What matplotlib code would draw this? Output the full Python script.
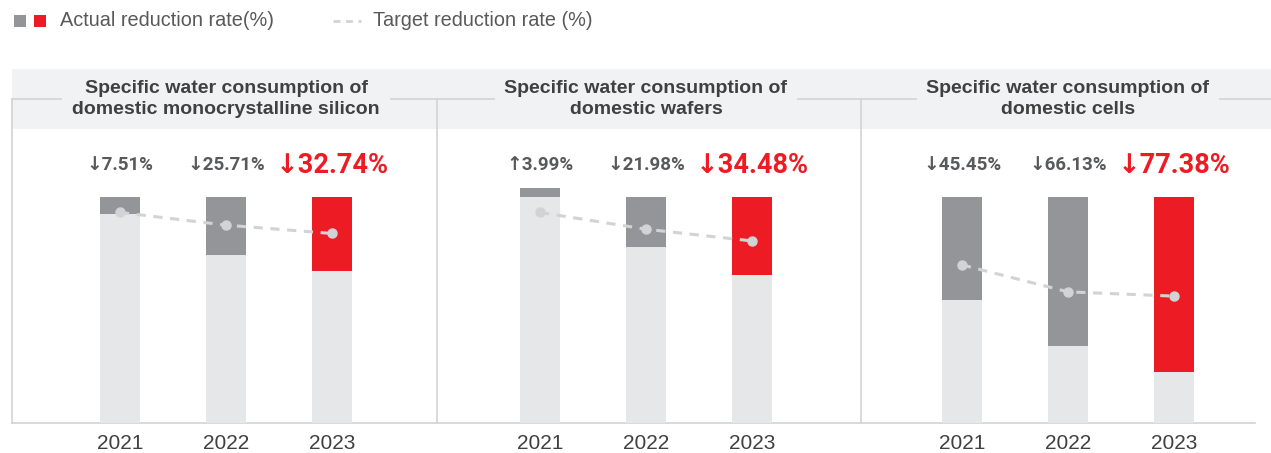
import matplotlib
matplotlib.use("Agg")
import matplotlib.pyplot as plt
from matplotlib.patches import Rectangle
from matplotlib.lines import Line2D

plt.rcParams['font.family'] = ['Liberation Sans', 'DejaVu Sans']

# --- data ---
years = ["2021", "2022", "2023"]
titles = [
    "Specific water consumption of\ndomestic monocrystalline silicon",
    "Specific water consumption of\ndomestic wafers",
    "Specific water consumption of\ndomestic cells",
]
# signed change vs. baseline (negative = reduction)
silicon_actual = [-7.51, -25.71, -32.74]
wafer_actual = [3.99, -21.98, -34.48]
cell_actual = [-45.45, -66.13, -77.38]
# target reduction rates
silicon_target = [6.9, 12.5, 16.2]
wafer_target = [6.9, 14.3, 19.5]
cell_target = [30.1, 42.0, 43.9]

actuals = [silicon_actual, wafer_actual, cell_actual]
targets = [silicon_target, wafer_target, cell_target]

LIGHT = '#e6e7e8'
DARK = '#939598'
RED = '#ed1c24'
HEADER = '#f1f2f4'
RULE = '#d1d3d4'
TEXT = '#404040'
LABEL = '#58595b'
NARROW = ['Roboto', 'DejaVu Sans']

W, H = 1271, 453
fig = plt.figure(figsize=(W / 100, H / 100), dpi=100)


def fx(x):
    return x / W


def fy(y):
    return 1 - y / H


# header band + rules
fig.add_artist(Rectangle((fx(12), fy(129)), fx(1271) - fx(12), 60 / H,
                         transform=fig.transFigure, fc=HEADER, ec='none', zorder=-3))
rules = [((12, 1271), (99, 99)), ((12, 12), (99, 423)), ((437, 437), (99, 423)),
         ((861, 861), (99, 423)), ((12, 1255), (423, 423))]
for xs, ys in rules:
    fig.add_artist(Line2D([fx(v) for v in xs], [fy(v) for v in ys],
                          transform=fig.transFigure, color=RULE, lw=1.2, zorder=-2))

# legend
fig.add_artist(Rectangle((fx(14), fy(27)), 12 / W, 12 / H, transform=fig.transFigure,
                         fc=DARK, ec='none'))
fig.add_artist(Rectangle((fx(34), fy(27)), 12 / W, 12 / H, transform=fig.transFigure,
                         fc=RED, ec='none'))
fig.text(fx(60), fy(21), "Actual reduction rate(%)", ha='left', va='center',
         fontsize=14.3, color='#595959')
fig.add_artist(Line2D([fx(333), fx(361)], [fy(21), fy(21)], transform=fig.transFigure,
                      color=RULE, lw=2, ls=(0, (2.5, 2))))
fig.text(fx(373), fy(21), "Target reduction rate (%)", ha='left', va='center',
         fontsize=14.3, color='#595959')

# (panel left px, panel width px, first bar offset px)
panels = [(12, 425, 108), (437, 424, 103), (861, 394, 101)]
unit = 106
x = [0, 1, 2]

for i, (x0, w, start) in enumerate(panels):
    ax = fig.add_axes([fx(x0), fy(423), w / W, (423 - 129) / H])
    ax.set_xlim(-start / unit, (w - start) / unit)
    ax.set_ylim(0, 130)
    ax.patch.set_alpha(0)
    for s in ax.spines.values():
        s.set_visible(False)
    ax.set_yticks([])
    ax.set_xticks(x, years)
    ax.tick_params(axis='x', length=0, pad=8, labelsize=15, labelcolor=TEXT)

    act = actuals[i]
    tops = [100 + min(r, 0) for r in act]
    ax.bar(x, tops, width=0.38, color=LIGHT, zorder=1)
    ax.bar(x, [abs(r) for r in act], bottom=tops, width=0.38,
           color=[DARK, DARK, RED], zorder=1)

    ax.plot(x, [100 - t for t in targets[i]], color=RULE, lw=2.2, ls=(0, (3, 2.5)),
            marker='o', ms=6.5, zorder=3)

    for j, r in enumerate(act):
        label = ("↑" if r > 0 else "↓") + f"{abs(r):.2f}%"
        last = j == len(act) - 1
        ax.text(x[j], 114, label, ha='center', va='center', family=NARROW,
                fontweight='bold', fontsize=19.5 if last else 13.5,
                color=RED if last else LABEL)

    ax.text(1, 1.102, titles[i], transform=ax.get_xaxis_transform(), ha='center',
            va='center', fontsize=14, fontweight='bold', color=TEXT, linespacing=1.35,
            clip_on=False, zorder=5,
            bbox=dict(fc=HEADER, ec='none', pad=7))

fig.savefig("out.png", dpi=100)
